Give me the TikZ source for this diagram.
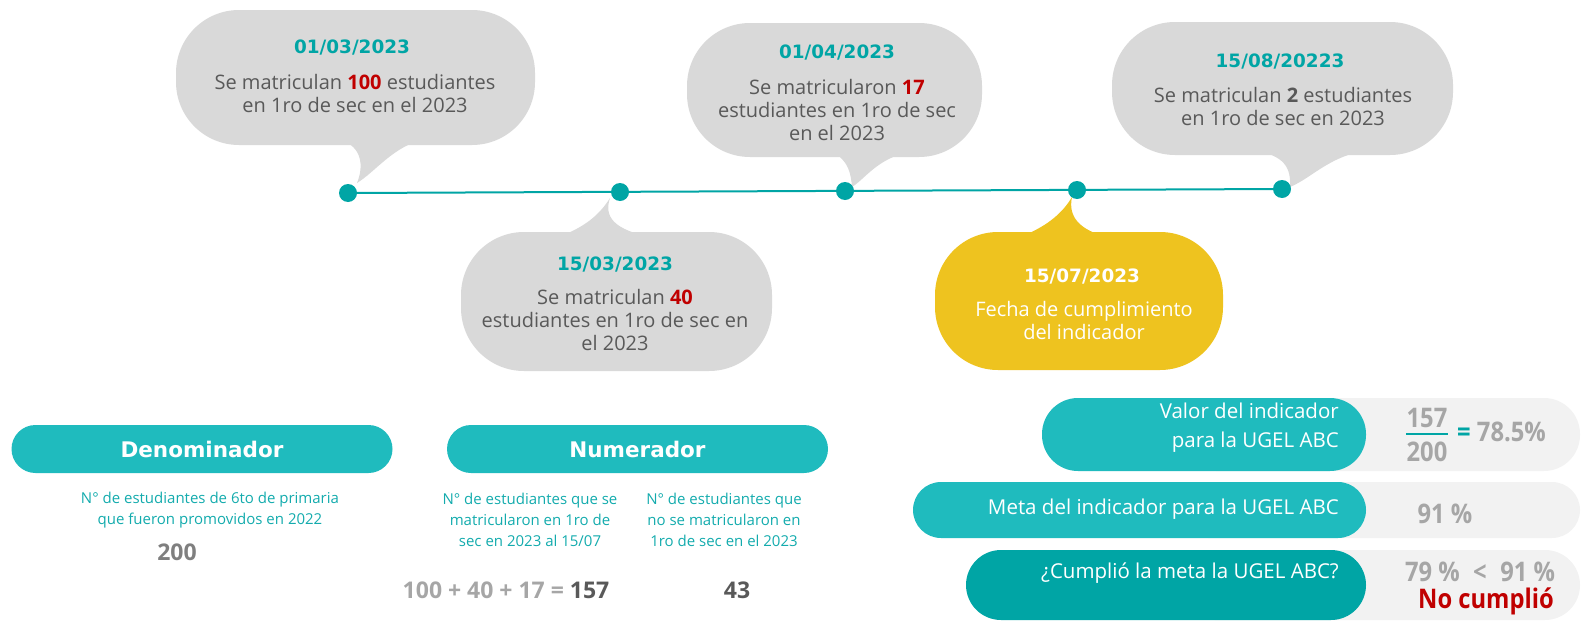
\documentclass[tikz,border=0pt]{standalone}
\usepackage{fontspec}
\setmainfont{Open Sans}
\newfontfamily\datefont{DejaVu Sans}
\newfontfamily\narrowfont[FakeStretch=0.88]{Open Sans}
\usetikzlibrary{positioning}
\definecolor{tealdark}{HTML}{00A5A5}
\definecolor{tealpill}{HTML}{1FBBBE}
\definecolor{tealtext}{HTML}{13ABAD}
\definecolor{bubblegray}{HTML}{D9D9D9}
\definecolor{textgray}{HTML}{595959}
\definecolor{numgray}{HTML}{7F7F7F}
\definecolor{lightnum}{HTML}{A6A6A6}
\definecolor{rowgray}{HTML}{F2F2F2}
\definecolor{numred}{HTML}{C00000}
\definecolor{bubbleyellow}{HTML}{EEC31F}
\newcommand{\bodysize}{\fontsize{20}{23}\selectfont}
\newcommand{\datesize}{\datefont\bfseries\fontsize{18.4}{22}\selectfont}
\newcommand{\headsize}{\datefont\bfseries\fontsize{21.5}{26}\selectfont}
\newcommand{\notesize}{\fontsize{15}{21}\selectfont}
\newcommand{\pillsize}{\fontsize{20.5}{29}\selectfont}
\newcommand{\valsize}{\narrowfont\bfseries\fontsize{27}{30}\selectfont}
\newcommand{\red}[1]{{\bfseries\color{numred}#1}}
\tikzset{
  bubble/.style={rectangle, rounded corners=63pt, fill=bubblegray, inner sep=0pt},
  tail/.style={fill=bubblegray},
  dot/.style={circle, fill=tealdark, inner sep=0pt, minimum size=18pt},
  datelbl/.style={text=tealdark, font=\datesize, inner sep=0pt},
  bodylbl/.style={text=textgray, font=\bodysize, align=center, inner sep=0pt},
  pill/.style={rectangle, rounded corners=24pt, fill=tealpill, text=white, font=\headsize, inner sep=0pt, minimum height=48pt, minimum width=381pt},
  notelbl/.style={text=tealtext, font=\notesize, align=center, inner sep=0pt},
  bignum/.style={font=\bfseries\fontsize{23}{26}\selectfont, inner sep=0pt},
  rowbg/.style={rectangle, fill=rowgray, inner sep=0pt},
  rowpill/.style={rectangle, text=white, font=\pillsize, align=right, inner sep=0pt},
  rowlbl/.style={text=white, font=\pillsize, align=right, inner sep=0pt, anchor=east},
  vallbl/.style={text=lightnum, font=\valsize, inner sep=0pt}
}
\begin{document}
\begin{tikzpicture}[x=1pt,y=-1pt]
\useasboundingbox (0,0) rectangle (1581,621);
%0103
\node[bubble, minimum width=359pt, minimum height=135pt] (b1) at (355.5,77.5) {};
\fill[tail] (340,140) .. controls (362,146) and (364,166) .. (357,183) .. controls (375,172) and (390,150) .. (420,140) -- cycle;
\node[datelbl] (t1) at (352,48) {01/03/2023};
\node[bodylbl] (x1) at (355,93.5) {Se matriculan \red{100} estudiantes\\en 1ro de sec en el 2023};
%1503
\node[bubble, minimum width=311pt, minimum height=139pt] (b2) at (616.5,301.5) {};
\fill[tail] (555,238) .. controls (585,228) and (600,214) .. (610,198) .. controls (604,216) and (612,230) .. (655,238) -- cycle;
\node[datelbl] (t2) at (615,265) {15/03/2023};
\node[bodylbl] (x2) at (615,320) {Se matriculan \red{40}\\estudiantes en 1ro de sec en\\el 2023};
%0104
\node[bubble, minimum width=295pt, minimum height=134pt] (b3) at (834.5,90) {};
\fill[tail] (832,152) .. controls (849,160) and (851,175) .. (852,187) .. controls (866,178) and (876,160) .. (908,152) -- cycle;
\node[datelbl] (t3) at (837,53) {01/04/2023};
\node[bodylbl] (x3) at (837,110) {Se matricularon \red{17}\\estudiantes en 1ro de sec\\en el 2023};
%1507
\node[bubble, fill=bubbleyellow, minimum width=288pt, minimum height=138pt] (b4) at (1079,301) {};
\fill[bubbleyellow] (1017,238) .. controls (1045,228) and (1062,214) .. (1072,197) .. controls (1068,216) and (1078,230) .. (1110,238) -- cycle;
\node[datelbl, text=white] (t4) at (1082,277) {15/07/2023};
\node[bodylbl, text=white] (x4) at (1084,320) {Fecha de cumplimiento\\del indicador};
%1508
\node[bubble, minimum width=341pt, minimum height=133pt] (b5) at (1282.5,88.5) {};
\fill[tail] (1252,150) .. controls (1285,155) and (1291,168) .. (1290,187) .. controls (1312,178) and (1330,155) .. (1370,150) -- cycle;
\node[datelbl] (t5) at (1280,62) {15/08/20223};
\node[bodylbl] (x5) at (1283,106.5) {Se matriculan {\bfseries 2} estudiantes\\en 1ro de sec en 2023};
%timeline
\node[dot] (d1) at (348,193) {};
\node[dot] (d2) at (620,192) {};
\node[dot] (d3) at (845,191) {};
\node[dot] (d4) at (1077,190) {};
\node[dot] (d5) at (1282,189) {};
\draw[tealdark, line width=2pt] (d1.center) -- (d5.center);
%denominador
\node[pill] (den) at (202,449) {Denominador};
\node[notelbl] (denx) at (210,510) {N° de estudiantes de 6to de primaria\\que fueron promovidos en 2022};
\node[bignum, text=numgray] (denv) at (177,552) {200};
%numerador
\node[pill] (num) at (637.5,449) {Numerador};
\node[notelbl] (numa) at (530,520) {N° de estudiantes que se\\matricularon en 1ro de\\sec en 2023 al 15/07};
\node[notelbl] (numb) at (724,520) {N° de estudiantes que\\no se matricularon en\\1ro de sec en el 2023};
\node[bignum, text=lightnum] (numv) at (506,590) {100 + 40 + 17 = {\color{textgray}157}};
\node[bignum, text=textgray] (nomv) at (737,590) {43};
%valor
\node[rowbg, rounded corners=36pt, minimum width=400pt, minimum height=73pt] (r1) at (1380,434.5) {};
\node[rowpill, fill=tealpill, rounded corners=36pt, minimum width=324pt, minimum height=73pt] (p1) at (1204,434.5) {};
\node[rowlbl] (l1) at (1339,428) {Valor del indicador\\para la UGEL ABC};
\node[vallbl] (f1) at (1427,418) {157};
\node[vallbl] (f2) at (1427,452) {200};
\draw[tealdark, line width=2.5pt] (f2.north west |- 0,434) -- (f2.north east |- 0,434);
\node[vallbl, anchor=west] (f3) at (1457,432) {{\color{tealdark}=} 78.5\%};
%meta
\node[rowbg, rounded corners=28pt, minimum width=400pt, minimum height=56pt] (r2) at (1380,510) {};
\node[rowpill, fill=tealpill, rounded corners=28pt, minimum width=453pt, minimum height=56pt] (p2) at (1139.5,510) {};
\node[rowlbl] (l2) at (1339,509) {Meta del indicador para la UGEL ABC};
\node[vallbl] (m1) at (1445,514) {91 \%};
%cumplio
\node[rowbg, rounded corners=35pt, minimum width=400pt, minimum height=70pt] (r3) at (1380,585) {};
\node[rowpill, fill=tealdark, rounded corners=35pt, minimum width=400pt, minimum height=70pt] (p3) at (1166,585) {};
\node[rowlbl] (l3) at (1339,573) {¿Cumplió la meta la UGEL ABC?};
\node[vallbl] (c1) at (1480,572) {79 \%\enspace<\enspace91 \%};
\node[vallbl, text=numred] (c2) at (1486,601) {No cumplió};
\end{tikzpicture}
\end{document}
